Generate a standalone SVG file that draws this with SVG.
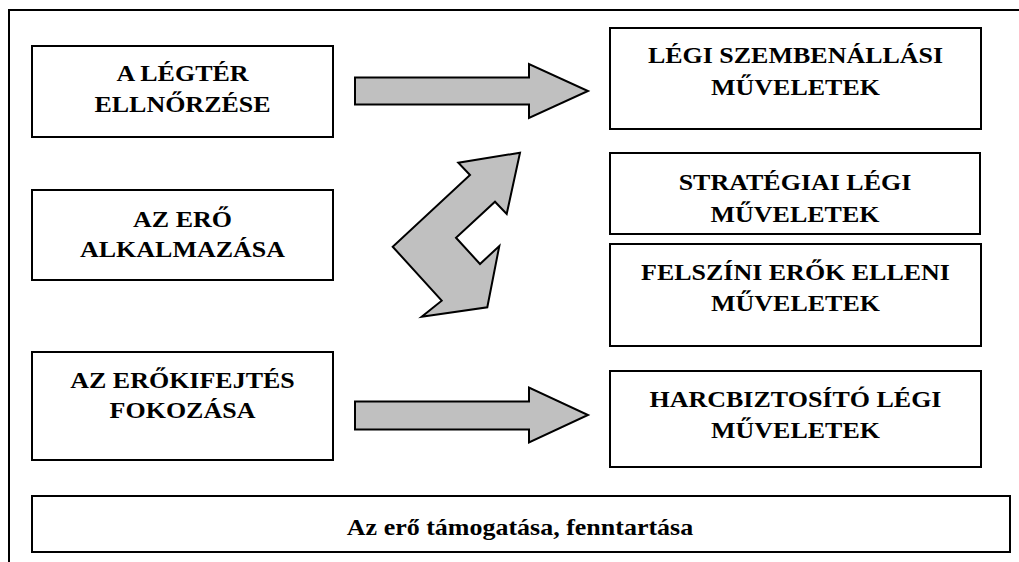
<svg xmlns="http://www.w3.org/2000/svg" width="1019" height="562" viewBox="0 0 1019 562">
<style>
.box{fill:#fff;stroke:#000;stroke-width:2}
.lbl{font-family:"Liberation Serif","Times New Roman",serif;font-weight:bold;font-size:23px;fill:#000;text-anchor:middle}
.arr{fill:#c0c0c0;stroke:#000;stroke-width:2;stroke-linejoin:miter}
</style>
<rect width="1019" height="562" fill="#fff"/>
<polyline points="9,562 9,10 1019,10" fill="none" stroke="#000" stroke-width="2"/>
<g id="n-legter">
<rect class="box" x="32" y="46" width="301" height="91"/>
<g transform="translate(182.5,0) scale(1.13,1)"><text class="lbl" x="0" y="81.5">A LÉGTÉR</text><text class="lbl" x="0" y="112.5">ELLNŐRZÉSE</text></g>
</g>
<g id="n-alkalmazas">
<rect class="box" x="32" y="190" width="301" height="90"/>
<g transform="translate(182.5,0) scale(1.13,1)"><text class="lbl" x="0" y="227">AZ ERŐ</text><text class="lbl" x="0" y="257">ALKALMAZÁSA</text></g>
</g>
<g id="n-fokozas">
<rect class="box" x="32" y="352" width="301" height="108"/>
<g transform="translate(182.5,0) scale(1.13,1)"><text class="lbl" x="0" y="388">AZ ERŐKIFEJTÉS</text><text class="lbl" x="0" y="418">FOKOZÁSA</text></g>
</g>
<g id="n-szembenallasi">
<rect class="box" x="610" y="28" width="371" height="101"/>
<g transform="translate(795.5,0) scale(1.13,1)"><text class="lbl" x="0" y="63">LÉGI SZEMBENÁLLÁSI</text><text class="lbl" x="0" y="95">MŰVELETEK</text></g>
</g>
<g id="n-strategiai">
<rect class="box" x="610" y="153" width="370" height="81"/>
<g transform="translate(795,0) scale(1.13,1)"><text class="lbl" x="0" y="190">STRATÉGIAI LÉGI</text><text class="lbl" x="0" y="222">MŰVELETEK</text></g>
</g>
<g id="n-felszini">
<rect class="box" x="610" y="244" width="371" height="102"/>
<g transform="translate(795.5,0) scale(1.13,1)"><text class="lbl" x="0" y="280">FELSZÍNI ERŐK ELLENI</text><text class="lbl" x="0" y="311">MŰVELETEK</text></g>
</g>
<g id="n-harcbiztosito">
<rect class="box" x="610" y="371" width="371" height="96"/>
<g transform="translate(795.5,0) scale(1.13,1)"><text class="lbl" x="0" y="407">HARCBIZTOSÍTÓ LÉGI</text><text class="lbl" x="0" y="438">MŰVELETEK</text></g>
</g>
<g id="n-tamogatas">
<rect class="box" x="32" y="496" width="978" height="56"/>
<g transform="translate(520,0) scale(1.13,1)"><text class="lbl" x="0" y="535">Az erő támogatása, fenntartása</text></g>
</g>
<g id="connectors">
<polygon class="arr" points="355,77.5 529,77.5 529,64 588,91 529,118 529,104.5 355,104.5"/>
<polygon class="arr" points="355,401.5 529,401.5 529,387.5 588,415 529,442.5 529,429.5 355,429.5"/>
<polygon class="arr" points="520,152.7 506.7,214 495,201.7 456,237.7 480,264 499.3,246 487.3,307.3 421.7,316.7 441.7,300.7 392.7,246.7 470,175 458.3,162.7"/>
</g>
</svg>
